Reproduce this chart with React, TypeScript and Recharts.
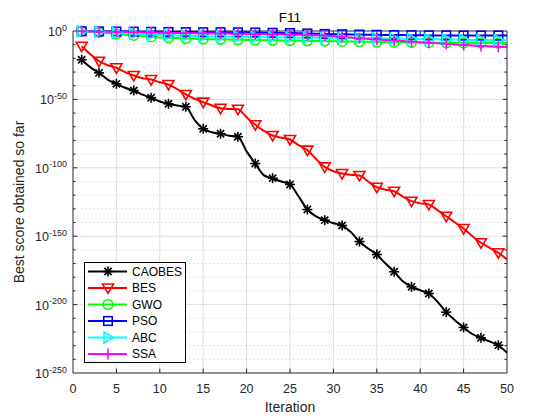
import React from 'react';
import { LineChart, Line, XAxis, YAxis, ReferenceLine, Legend } from 'recharts';

// log10 of "best score obtained so far", iterations 1..50
const iterations = [
  1, 2, 3, 4, 5, 6, 7, 8, 9, 10, 11, 12, 13, 14, 15, 16, 17, 18, 19, 20, 21, 22, 23, 24, 25,
  26, 27, 28, 29, 30, 31, 32, 33, 34, 35, 36, 37, 38, 39, 40, 41, 42, 43, 44, 45, 46, 47, 48, 49, 50,
];
const caobes = [
  -21, -26.5, -30.6, -35.5, -38.6, -41.5, -43.5, -46.5, -48.8, -51.5, -53.2, -54.5, -55.4, -65, -71.5,
  -74, -75.1, -76.5, -77.3, -88, -96.9, -105.5, -107.6, -110, -112.2, -121, -130.5, -135.5, -138.3, -140.5,
  -142.2, -147, -153.9, -159, -163.4, -170, -176, -183, -187, -189.5, -191.9, -198, -205.5, -211.5, -216.7,
  -221.5, -224.3, -227, -229.7, -235.2,
];
const bes = [
  -11.1, -17, -22.1, -25, -26.9, -30, -32.5, -34.5, -35.5, -37.5, -39.1, -42.5, -46.4, -49.5, -52,
  -54.5, -56.5, -57, -57.2, -63, -68.5, -73, -76.4, -78, -79.3, -83.5, -87.1, -93.5, -99.3, -102.5,
  -104.2, -105, -105.6, -110, -114.2, -116, -117.1, -121, -124.4, -126, -126.8, -131, -135.4, -140, -144.4,
  -150, -154.8, -158.5, -162.1, -167,
];
const gwo = [
  0, -0.4, -1, -1.6, -2.2, -2.8, -3.2, -3.8, -4.3, -4.7, -5, -5.2, -5.5, -5.7, -5.9,
  -6, -6.1, -6.3, -6.4, -6.5, -6.6, -6.7, -6.8, -6.9, -7, -7.1, -7.2, -7.3, -7.4, -7.5,
  -7.6, -7.7, -7.8, -7.9, -8, -8.1, -8.2, -8.3, -8.3, -8.4, -8.5, -8.5, -8.6, -8.6, -8.7,
  -8.7, -8.8, -8.8, -8.9, -9,
];
const pso = [
  -0.2, -0.2, -0.3, -0.3, -0.4, -0.4, -0.5, -0.5, -0.6, -0.6, -0.7, -0.7, -0.8, -0.8, -0.9,
  -0.9, -0.9, -1, -1, -1, -1.1, -1.2, -1.3, -1.4, -1.5, -1.6, -1.8, -2, -2.2, -2.3,
  -2.4, -2.5, -2.6, -2.7, -2.8, -2.9, -3, -3, -3.1, -3.1, -3.2, -3.2, -3.2, -3.3, -3.3,
  -3.3, -3.3, -3.3, -3.3, -3.3,
];
const abc = [
  -0.3, -0.5, -0.7, -1, -1.3, -1.6, -1.9, -2.2, -2.5, -2.8, -3, -3.2, -3.4, -3.6, -3.8,
  -3.9, -4, -4.1, -4.2, -4.3, -4.4, -4.5, -4.6, -4.7, -4.8, -4.85, -4.9, -4.95, -5, -5,
  -5, -5.1, -5.2, -5.3, -5.4, -5.5, -5.6, -5.7, -5.8, -5.9, -6, -6.1, -6.2, -6.3, -6.4,
  -6.5, -6.6, -6.6, -6.7, -6.7,
];
const ssa = [
  -0.3, -0.4, -0.5, -0.6, -0.7, -0.8, -0.9, -1, -1.1, -1.2, -1.3, -1.4, -1.5, -1.6, -1.7,
  -1.75, -1.8, -1.9, -2, -2.1, -2.2, -2.3, -2.4, -2.5, -2.6, -2.8, -3, -3.1, -3.3, -3.8,
  -4.3, -4.8, -5.3, -5.8, -6.2, -6.6, -7, -7.4, -7.8, -8.2, -8.6, -9, -9.4, -9.8, -10.2,
  -10.6, -11, -11.2, -11.5, -11.7,
];

const xTicks = [0, 5, 10, 15, 20, 25, 30, 35, 40, 45, 50];
const yTicks = [-250, -200, -150, -100, -50, 0];
const xInnerGrid = [5, 10, 15, 20, 25, 30, 35, 40, 45];
const yInnerGrid = [-200, -150, -100, -50];
const yMinor = [
  -240, -230, -220, -210, -190, -180, -170, -160, -140, -130, -120, -110,
  -90, -80, -70, -60, -40, -30, -20, -10,
];

const seriesNames = ['CAOBES', 'BES', 'GWO', 'PSO', 'ABC', 'SSA'];
const seriesKeys = ['caobes', 'bes', 'gwo', 'pso', 'abc', 'ssa'];
const seriesColors = ['#000000', '#ff0000', '#00ff00', '#0000ff', '#00ffff', '#ff00ff'];
const seriesMarkers = ['star', 'tdown', 'circle', 'square', 'tright', 'plus'];

const data = iterations.map((it, i) => ({
  it,
  caobes: caobes[i],
  bes: bes[i],
  gwo: gwo[i],
  pso: pso[i],
  abc: abc[i],
  ssa: ssa[i],
}));

const FONT = '"Liberation Sans", Arial, Helvetica, sans-serif';
const AX = '#262626';

function MarkerShape({ kind, cx, cy, color }: { kind: string; cx: number; cy: number; color: string }) {
  const sw = 1.6;
  switch (kind) {
    case 'star': {
      const r = 5;
      const d = 3.6;
      return (
        <g stroke={color} strokeWidth={sw} fill="none">
          <line x1={cx - r} y1={cy} x2={cx + r} y2={cy} />
          <line x1={cx} y1={cy - r} x2={cx} y2={cy + r} />
          <line x1={cx - d} y1={cy - d} x2={cx + d} y2={cy + d} />
          <line x1={cx - d} y1={cy + d} x2={cx + d} y2={cy - d} />
        </g>
      );
    }
    case 'tdown':
      return (
        <polygon
          points={`${cx - 5.5},${cy - 4} ${cx + 5.5},${cy - 4} ${cx},${cy + 5.5}`}
          fill="none"
          stroke={color}
          strokeWidth={sw}
        />
      );
    case 'circle':
      return <circle cx={cx} cy={cy} r={4.8} fill="none" stroke={color} strokeWidth={sw} />;
    case 'square':
      return <rect x={cx - 4.3} y={cy - 4.3} width={8.6} height={8.6} fill="none" stroke={color} strokeWidth={sw} />;
    case 'tright':
      return (
        <polygon
          points={`${cx - 4},${cy - 5.5} ${cx - 4},${cy + 5.5} ${cx + 5.5},${cy}`}
          fill="none"
          stroke={color}
          strokeWidth={sw}
        />
      );
    case 'plus':
      return (
        <g stroke={color} strokeWidth={sw}>
          <line x1={cx - 5.5} y1={cy} x2={cx + 5.5} y2={cy} />
          <line x1={cx} y1={cy - 5.5} x2={cx} y2={cy + 5.5} />
        </g>
      );
    default:
      return null;
  }
}

const makeDot = (kind: string, color: string) => (props: any) => {
  const { cx, cy, index } = props;
  if (index % 2 !== 0 || cx == null || cy == null) return <g key={`d-${kind}-${index}`} />;
  return (
    <g key={`d-${kind}-${index}`}>
      <MarkerShape kind={kind} cx={cx} cy={cy} color={color} />
    </g>
  );
};

const YTick = (props: any) => {
  const { y, payload } = props;
  return (
    <text x={67} y={y + 5} textAnchor="end" fontSize={12.5} fill={AX} fontFamily={FONT}>
      10
      <tspan dy={-5.5} fontSize={9}>
        {String(payload.value)}
      </tspan>
    </text>
  );
};

const XTick = (props: any) => {
  const { x, payload } = props;
  return (
    <text x={x} y={392.5} textAnchor="middle" fontSize={12.5} fill={AX} fontFamily={FONT}>
      {payload.value}
    </text>
  );
};

const LegendBox = () => (
  <svg width={102} height={101} style={{ display: 'block' }}>
    <rect x={0.5} y={0.5} width={101} height={100} fill="#ffffff" stroke="#000000" strokeWidth={1} />
    {seriesNames.map((name, i) => {
      const cy = 9.5 + i * 16.5;
      return (
        <g key={name}>
          <line x1={4} y1={cy} x2={43} y2={cy} stroke={seriesColors[i]} strokeWidth={2} />
          <MarkerShape kind={seriesMarkers[i]} cx={24} cy={cy} color={seriesColors[i]} />
          <text x={48} y={cy + 4.2} fontSize={12} fill="#000" fontFamily={FONT}>
            {name}
          </text>
        </g>
      );
    })}
  </svg>
);

export default function App() {
  return (
    <div style={{ position: 'absolute', left: 0, top: 0, width: 560, height: 420, background: '#ffffff' }}>
      <div
        style={{
          position: 'absolute',
          left: 0,
          top: 9,
          width: 580,
          textAlign: 'center',
          fontFamily: FONT,
          fontSize: 13.5,
          color: '#000',
          lineHeight: '17px',
          zIndex: 2,
        }}
      >
        F11
      </div>
      <LineChart width={560} height={420} data={data} margin={{ top: 31, right: 53, bottom: 0, left: 13 }}>
        <XAxis
          dataKey="it"
          type="number"
          domain={[0, 50]}
          ticks={xTicks}
          height={47}
          axisLine={false}
          tickLine={false}
          tick={<XTick />}
          interval={0}
          label={() => (
            <text x={290} y={411.5} textAnchor="middle" fontSize={14} fill={AX} fontFamily={FONT}>
              Iteration
            </text>
          )}
        />
        <YAxis
          type="number"
          domain={[-250, 0]}
          ticks={yTicks}
          width={60}
          axisLine={false}
          tickLine={false}
          tick={<YTick />}
          interval={0}
          label={() => (
            <text
              x={23.5}
              y={202}
              textAnchor="middle"
              fontSize={14}
              fill={AX}
              fontFamily={FONT}
              transform="rotate(-90 23.5 202)"
            >
              Best score obtained so far
            </text>
          )}
        />
        {yMinor.map((v) => (
          <ReferenceLine key={`mn${v}`} y={v} stroke="#c9c9c9" strokeDasharray="1 3" strokeWidth={1} />
        ))}
        {yInnerGrid.map((v) => (
          <ReferenceLine key={`gy${v}`} y={v} stroke="#dfdfdf" strokeWidth={1} />
        ))}
        {xInnerGrid.map((v) => (
          <ReferenceLine key={`gx${v}`} x={v} stroke="#dfdfdf" strokeWidth={1} />
        ))}
        {xInnerGrid.map((v) => (
          <ReferenceLine key={`tb${v}`} segment={[{ x: v, y: -250 }, { x: v, y: -246.8 }]} stroke={AX} strokeWidth={1} />
        ))}
        {xInnerGrid.map((v) => (
          <ReferenceLine key={`tt${v}`} segment={[{ x: v, y: 0 }, { x: v, y: -3.2 }]} stroke={AX} strokeWidth={1} />
        ))}
        {yInnerGrid.map((v) => (
          <ReferenceLine key={`tl${v}`} segment={[{ x: 0, y: v }, { x: 0.5, y: v }]} stroke={AX} strokeWidth={1} />
        ))}
        {yInnerGrid.map((v) => (
          <ReferenceLine key={`tr${v}`} segment={[{ x: 50, y: v }, { x: 49.5, y: v }]} stroke={AX} strokeWidth={1} />
        ))}
        {yMinor.map((v) => (
          <ReferenceLine key={`ml${v}`} segment={[{ x: 0, y: v }, { x: 0.3, y: v }]} stroke={AX} strokeWidth={1} />
        ))}
        {yMinor.map((v) => (
          <ReferenceLine key={`mr${v}`} segment={[{ x: 50, y: v }, { x: 49.7, y: v }]} stroke={AX} strokeWidth={1} />
        ))}
        <ReferenceLine x={0} stroke={AX} strokeWidth={1} />
        <ReferenceLine x={50} stroke={AX} strokeWidth={1} />
        <ReferenceLine y={0} stroke={AX} strokeWidth={1} />
        <ReferenceLine y={-250} stroke={AX} strokeWidth={1} />
        {seriesKeys.map((k, i) => (
          <Line
            key={k}
            dataKey={k}
            type="monotone"
            stroke={seriesColors[i]}
            strokeWidth={2}
            dot={makeDot(seriesMarkers[i], seriesColors[i])}
            activeDot={false}
            isAnimationActive={false}
          />
        ))}
        <Legend
          layout="vertical"
          align="center"
          verticalAlign="middle"
          content={() => <LegendBox />}
          wrapperStyle={{ left: 84, top: 262, width: 102, height: 101, margin: 0 }}
        />
      </LineChart>
    </div>
  );
}
